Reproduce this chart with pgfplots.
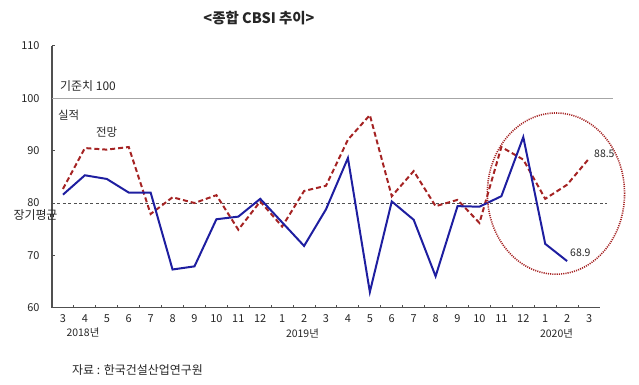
\documentclass[border=0pt]{standalone}
\usepackage{pgfplots}
\pgfplotsset{compat=1.18}
\usepackage{fontspec}
\setmainfont{Noto Sans CJK KR}
\definecolor{navy}{RGB}{30,30,160}
\definecolor{dred}{RGB}{165,35,35}
\definecolor{axgray}{RGB}{80,80,80}
\begin{document}
\begin{tikzpicture}[x=1bp,y=1bp]
\path[use as bounding box] (0,0) rectangle (639,384);
\begin{axis}[
  at={(52bp,76.3bp)}, anchor=south west,
  scale only axis, width=548bp, height=261.7bp,
  xmin=-0.5, xmax=24.5, ymin=60, ymax=110,
  axis lines=left, axis line style={axgray, line width=1.2pt, -},
  clip=false,
  xtick={0,...,24},
  xticklabels={3,4,5,6,7,8,9,10,11,12,1,2,3,4,5,6,7,8,9,10,11,12,1,2,3},
  major x tick style={draw=none},
  minor xtick={0.5,1.5,...,23.5},
  minor tick style={axgray, line width=1pt},
  minor tick length=3pt,
  ytick={60,70,...,110},
  major y tick style={axgray, line width=1pt},
  major tick length=3pt,
  tick align=inside,
  tick label style={font=\fontsize{11}{13}\selectfont, text=black!85},
  /pgf/number format/assume math mode=true,
  xticklabel style={yshift=-3pt},
  yticklabel style={xshift=-9pt},
]
% reference lines
\addplot[gray!70, line width=1pt] coordinates {(-0.5,100) (25.09,100)};
\addplot[axgray, line width=1pt, dash pattern=on 3pt off 2.5pt] coordinates {(-0.5,80) (24.82,80)};
% outlook (red dashed)
\addplot[dred, line width=2pt, dash pattern=on 5pt off 3pt] coordinates {
(0,82.7) (1,90.5) (2,90.2) (3,90.7) (4,77.9) (5,81.1) (6,80.0) (7,81.5)
(8,74.9) (9,80.3) (10,75.5) (11,82.3) (12,83.3) (13,92.1) (14,96.8) (15,81.3)
(16,86.1) (17,79.4) (18,80.6) (19,76.2) (20,90.7) (21,88.3) (22,80.8) (23,83.5) (24,88.5)};
% actual (blue solid)
\addplot[navy, line width=2pt] coordinates {
(0,81.6) (1,85.3) (2,84.6) (3,82.0) (4,82.0) (5,67.3) (6,67.9) (7,76.9)
(8,77.4) (9,80.8) (10,76.3) (11,71.8) (12,78.8) (13,88.6) (14,63.0) (15,80.3)
(16,76.8) (17,66.0) (18,79.4) (19,79.3) (20,81.3) (21,92.6) (22,72.2) (23,68.9)};
\draw[dred, line width=1.6pt, dash pattern=on 1.1pt off 1.1pt] (axis cs:22.49,81.8) ellipse [x radius=3.13, y radius=15.4];
\end{axis}
\begin{scope}[every node/.style={inner sep=0pt, text=black!85}]
\node[font=\fontsize{14.5}{16}\selectfont\bfseries] at (259,366) {<종합 CBSI 추이>};
\node[anchor=west, font=\fontsize{12}{14}\selectfont] at (60,298) {기준치 100};
\node[anchor=west, font=\fontsize{11.5}{13}\selectfont] at (58,269) {실적};
\node[anchor=west, font=\fontsize{11.5}{13}\selectfont] at (96,252) {전망};
\node[font=\fontsize{12}{14}\selectfont] at (35.5,169) {장기평균};
\node[anchor=west, font=\fontsize{10.5}{12}\selectfont] at (594,230) {88.5};
\node[anchor=west, font=\fontsize{10.5}{12}\selectfont] at (570,131) {68.9};
\node[font=\fontsize{10.5}{12}\selectfont] at (83,52) {2018년};
\node[font=\fontsize{10.5}{12}\selectfont] at (302.5,51) {2019년};
\node[font=\fontsize{10.5}{12}\selectfont] at (556.5,51) {2020년};
\node[anchor=west, font=\fontsize{12}{14}\selectfont] at (72,14) {자료 : 한국건설산업연구원};
\end{scope}
\end{tikzpicture}
\end{document}
